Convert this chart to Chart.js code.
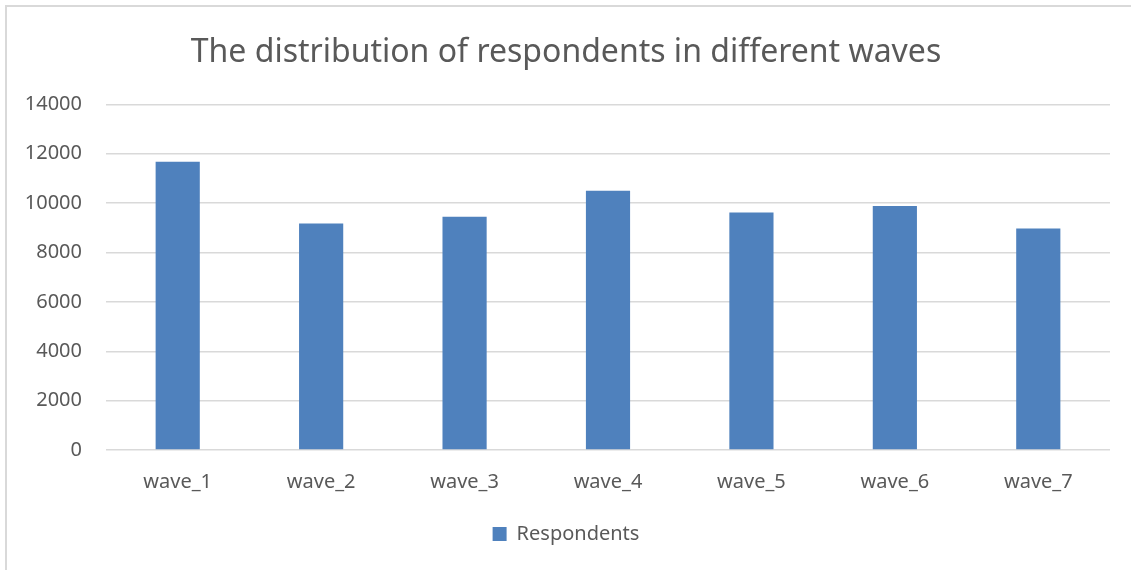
<!DOCTYPE html>
<html>
<head>
<meta charset="utf-8">
<script src="https://cdn.jsdelivr.net/npm/chart.js@4/dist/chart.umd.min.js"></script>
<style>
  html, body { margin: 0; padding: 0; background: #ffffff; }
  #wrap { position: relative; width: 1131px; height: 570px; overflow: hidden; }
  #frame { position: absolute; left: 5px; top: 5px; width: 1140px; height: 580px;
           border-left: 2px solid #d9d9d9; border-top: 2px solid #d9d9d9; box-sizing: border-box; pointer-events: none; }
  canvas { position: absolute; left: 0; top: 0; }
</style>
</head>
<body>
<div id="wrap">
  <canvas id="chart" width="1131" height="570"></canvas>
  <div id="frame"></div>
</div>
<script>
// Respondents per survey wave
const waves = ['wave_1', 'wave_2', 'wave_3', 'wave_4', 'wave_5', 'wave_6', 'wave_7'];
const respondents = [11680, 9180, 9450, 10500, 9620, 9880, 8970];
const yTicks = [0, 2000, 4000, 6000, 8000, 10000, 12000, 14000];

const textColor = '#595959';
const fontFamily = '"Noto Sans", "Open Sans", sans-serif';
const padLeft = 22;

new Chart(document.getElementById('chart'), {
  type: 'bar',
  data: {
    labels: waves,
    datasets: [{
      label: 'Respondents',
      data: respondents,
      backgroundColor: '#4f81bd',
      borderWidth: 0,
      barPercentage: 1,
      categoryPercentage: 0.308
    }]
  },
  options: {
    responsive: false,
    animation: false,
    layout: { padding: { left: padLeft, right: 21, top: 0, bottom: 16 } },
    plugins: {
      title: {
        display: true,
        text: 'The distribution of respondents in different waves',
        color: textColor,
        font: { family: fontFamily, size: 32, weight: 'normal' },
        padding: { top: 34, bottom: 32 }
      },
      legend: {
        display: true,
        position: 'bottom',
        labels: {
          color: textColor,
          font: { family: fontFamily, size: 20 },
          boxWidth: 14,
          boxHeight: 14,
          padding: 10
        }
      },
      tooltip: { enabled: false }
    },
    scales: {
      x: {
        grid: { display: false, drawTicks: false },
        border: { display: false },
        ticks: { color: textColor, font: { family: fontFamily, size: 20 }, padding: 20 }
      },
      y: {
        min: 0,
        max: 14000,
        afterBuildTicks: (scale) => { scale.ticks = yTicks.map(v => ({ value: v })); },
        afterFit: (scale) => { scale.width = 106 - padLeft; },
        grid: { color: '#d9d9d9', lineWidth: 1.5, drawTicks: false },
        border: { display: false },
        ticks: {
          color: textColor,
          font: { family: fontFamily, size: 20 },
          padding: 24,
          callback: (v) => String(v)
        }
      }
    }
  }
});
</script>
</body>
</html>
